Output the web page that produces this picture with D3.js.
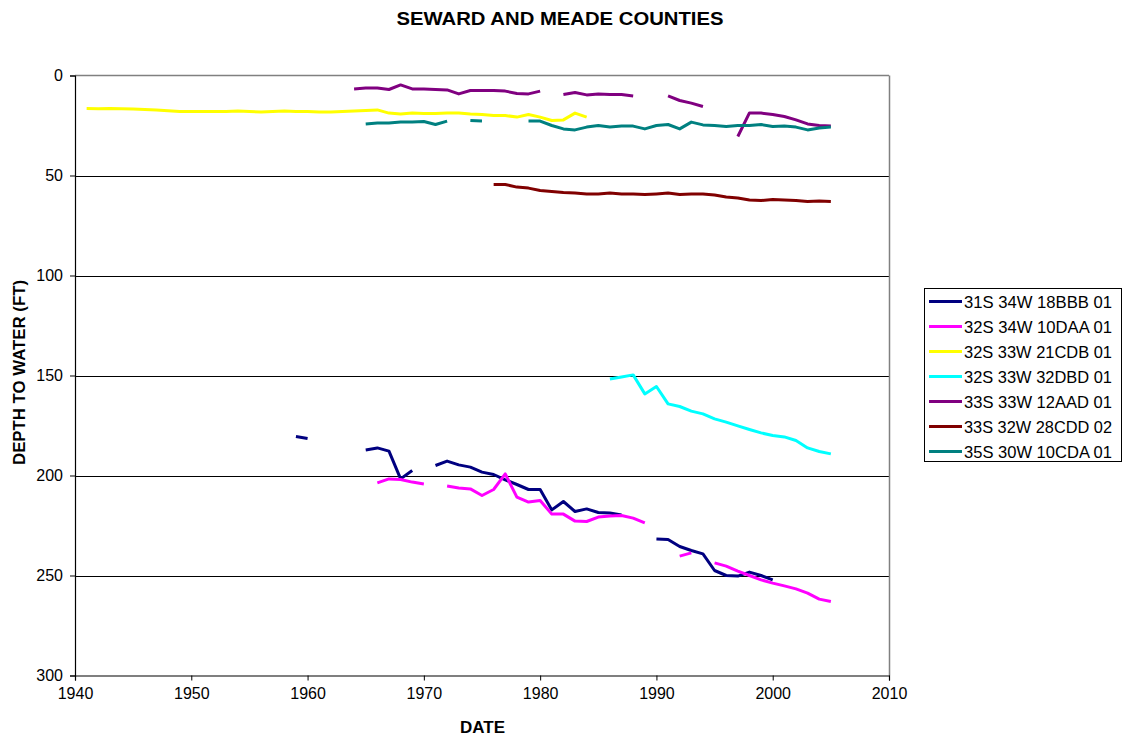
<!DOCTYPE html>
<html>
<head>
<meta charset="utf-8">
<script src="https://cdn.jsdelivr.net/npm/d3@7"></script>
<style>
body{margin:0;background:#fff;}
text{font-family:"Liberation Sans",Arial,sans-serif;}
</style>
</head>
<body>
<svg id="chart" width="1122" height="740"></svg>
<script>
// Data: [year, depth]; null depth marks a break in the record
const seriesNames = ["31S 34W 18BBB 01","32S 34W 10DAA 01","32S 33W 21CDB 01","32S 33W 32DBD 01","33S 33W 12AAD 01","33S 32W 28CDD 02","35S 30W 10CDA 01"];
const seriesColors = ["#000080","#FF00FF","#FFFF00","#00FFFF","#800080","#800000","#008080"];

const s31S34W18BBB = [[1959,180.5],[1960,181.5],[1961,null],[1965,187.2],[1966,186.2],[1967,187.8],[1968,201.7],[1969,197.5],[1970,null],
  [1971,195],[1972,192.8],[1973,194.7],[1974,195.8],[1975,198.3],[1976,199.5],[1977,202.2],[1978,204.5],[1979,207],[1980,207],
  [1981,217.2],[1982,213],[1983,218],[1984,216.7],[1985,218.5],[1986,218.8],[1987,219.7],[1988,null],
  [1990,231.7],[1991,232],[1992,235.5],[1993,237.5],[1994,239.2],[1995,247.5],[1996,250],[1997,250.3],[1998,248.3],[1999,250],[2000,252.2]];
const s32S34W10DAA = [[1966,203.7],[1967,201.7],[1968,202],[1969,203.3],[1970,204.2],[1971,null],
  [1972,205.2],[1973,206.2],[1974,206.7],[1975,210],[1976,207],[1977,199.2],[1978,210.8],[1979,213.3],[1980,212.5],
  [1981,219.3],[1982,219.3],[1983,222.8],[1984,223],[1985,220.8],[1986,220.2],[1987,220],[1988,221.3],[1989,223.7],[1990,null],
  [1992,240.3],[1993,238.7],[1994,null],
  [1995,243.7],[1996,245.3],[1997,247.8],[1998,250],[1999,252.2],[2000,253.8],[2001,255.2],[2002,256.7],[2003,258.8],[2004,261.8],[2005,263]];
const s32S33W21CDB = [[1941,16.5],[1942,16.6],[1943,16.5],[1944,16.6],[1945,16.8],[1946,17],[1947,17.3],[1948,17.6],[1949,18],[1950,18],
  [1951,18],[1952,18],[1953,18],[1954,17.7],[1955,18],[1956,18.2],[1957,18],[1958,17.8],[1959,18],[1960,18],
  [1961,18.3],[1962,18.3],[1963,18],[1964,17.8],[1965,17.5],[1966,17.2],[1967,18.8],[1968,19.2],[1969,18.8],[1970,19],
  [1971,19],[1972,18.8],[1973,18.8],[1974,19.3],[1975,19.5],[1976,20],[1977,20],[1978,20.8],[1979,19.5],[1980,20.8],
  [1981,22.5],[1982,22.2],[1983,18.8],[1984,20.8]];
const s32S33W32DBD = [[1986,151.8],[1987,150.8],[1988,149.7],[1989,159.2],[1990,155.5],[1991,164.2],[1992,165.5],[1993,167.8],[1994,169.2],
  [1995,171.7],[1996,173.3],[1997,175.2],[1998,177],[1999,178.7],[2000,180],[2001,180.7],[2002,182.5],[2003,186.2],[2004,188],[2005,189.2]];
const s33S33W12AAD = [[1964,6.7],[1965,6.3],[1966,6.2],[1967,7],[1968,4.7],[1969,6.7],[1970,6.8],[1971,7],[1972,7.2],[1973,9.2],[1974,7.5],
  [1975,7.5],[1976,7.5],[1977,7.8],[1978,9],[1979,9.2],[1980,7.8],[1981,null],
  [1982,9.5],[1983,8.5],[1984,9.7],[1985,9.2],[1986,9.5],[1987,9.5],[1988,10.2],[1989,null],
  [1991,10.2],[1992,12.5],[1993,13.8],[1994,15.5],[1995,null],
  [1997,30.5],[1998,18.7],[1999,18.8],[2000,19.5],[2001,20.5],[2002,22.2],[2003,24.2],[2004,25],[2005,25.3]];
const s33S32W28CDD = [[1976,54.5],[1977,54.5],[1978,55.8],[1979,56.3],[1980,57.5],[1981,58],[1982,58.5],[1983,58.8],[1984,59.2],[1985,59.2],
  [1986,58.8],[1987,59.2],[1988,59.2],[1989,59.5],[1990,59.2],[1991,58.8],[1992,59.5],[1993,59.2],[1994,59.2],[1995,59.8],
  [1996,60.8],[1997,61.2],[1998,62.2],[1999,62.5],[2000,62],[2001,62.2],[2002,62.5],[2003,63],[2004,62.8],[2005,63]];
const s35S30W10CDA = [[1965,24.2],[1966,23.7],[1967,23.7],[1968,23.2],[1969,23.3],[1970,23],[1971,24.5],[1972,22.8],[1973,null],
  [1974,22.5],[1975,22.8],[1976,null],
  [1979,22.8],[1980,22.8],[1981,25],[1982,26.7],[1983,27.2],[1984,25.8],[1985,25],[1986,25.8],[1987,25.3],[1988,25.3],[1989,26.7],
  [1990,25],[1991,24.5],[1992,26.7],[1993,23.3],[1994,24.7],[1995,25],[1996,25.5],[1997,25],[1998,25],[1999,24.5],[2000,25.5],
  [2001,25.3],[2002,25.8],[2003,27.2],[2004,26.3],[2005,25.8]];
const seriesData = [s31S34W18BBB,s32S34W10DAA,s32S33W21CDB,s32S33W32DBD,s33S33W12AAD,s33S32W28CDD,s35S30W10CDA];
const xTicks = [1940,1950,1960,1970,1980,1990,2000,2010];
const yTicks = [0,50,100,150,200,250,300];

const svg = d3.select("#chart");
const L = 75, R = 889, T = 75.5, B = 675.5;
const x = d3.scaleLinear().domain([1940,2010]).range([L,R]);
const y = d3.scaleLinear().domain([0,300]).range([T,B]);

// gridlines
svg.append("g").selectAll("line").data(yTicks.filter(v=>v>0 && v<300)).join("line")
  .attr("x1",L).attr("x2",R).attr("y1",d=>Math.round(y(d))+0.5).attr("y2",d=>Math.round(y(d))+0.5)
  .attr("stroke","#000").attr("stroke-width",1);
// plot border top/right
svg.append("line").attr("x1",L).attr("x2",R).attr("y1",T).attr("y2",T).attr("stroke","#808080").attr("stroke-width",1.5);
svg.append("line").attr("x1",R+0.5).attr("x2",R+0.5).attr("y1",T).attr("y2",B).attr("stroke","#808080").attr("stroke-width",1.5);

// axes
const xAxis = svg.append("g").attr("transform",`translate(0,${B})`)
  .call(d3.axisBottom(x).tickValues(xTicks).tickFormat(d3.format("d")).tickSizeOuter(0).tickSize(5).tickPadding(7));
const yAxis = svg.append("g").attr("transform",`translate(${L},0)`)
  .call(d3.axisLeft(y).tickValues(yTicks).tickSizeOuter(0).tickSize(5).tickPadding(7));
[xAxis,yAxis].forEach(a=>{
  a.select(".domain").attr("stroke","#000").attr("stroke-width",1.2);
  a.selectAll(".tick line").attr("stroke","#000");
  a.selectAll("text").attr("font-size",16).attr("fill","#000").attr("font-family","Liberation Sans, Arial, sans-serif");
});

// lines
const line = d3.line().defined(d=>d[1]!==null).x(d=>x(d[0])).y(d=>y(d[1]));
svg.append("g").selectAll("path").data(seriesData).join("path")
  .attr("d",line).attr("fill","none")
  .attr("stroke",(d,i)=>seriesColors[i]).attr("stroke-width",3)
  .attr("stroke-linejoin","round").attr("stroke-linecap","butt");

// titles
svg.append("text").attr("x",560).attr("y",25).attr("text-anchor","middle")
  .attr("font-size",18.5).attr("font-weight","bold")
  .attr("textLength",327).attr("lengthAdjust","spacingAndGlyphs").text("SEWARD AND MEADE COUNTIES");
svg.append("text").attr("x",482.5).attr("y",733).attr("text-anchor","middle")
  .attr("font-size",16.5).attr("font-weight","bold")
  .attr("textLength",45).attr("lengthAdjust","spacingAndGlyphs").text("DATE");
svg.append("text").attr("transform","translate(25,372.5) rotate(-90)").attr("text-anchor","middle")
  .attr("font-size",16.5).attr("font-weight","bold")
  .attr("textLength",185).attr("lengthAdjust","spacingAndGlyphs").text("DEPTH TO WATER (FT)");

// legend
const lg = svg.append("g");
lg.append("rect").attr("x",924.5).attr("y",288.5).attr("width",197).attr("height",173)
  .attr("fill","#fff").attr("stroke","#000").attr("stroke-width",1);
const items = lg.selectAll("g.item").data(seriesNames).join("g").attr("class","item")
  .attr("transform",(d,i)=>`translate(0,${301.5+i*25})`);
items.append("line").attr("x1",929).attr("x2",962).attr("y1",0).attr("y2",0)
  .attr("stroke",(d,i)=>seriesColors[i]).attr("stroke-width",3);
items.append("text").attr("x",964).attr("y",6).attr("font-size",16.5)
  .attr("textLength",148).attr("lengthAdjust","spacingAndGlyphs").text(d=>d);
</script>
</body>
</html>
